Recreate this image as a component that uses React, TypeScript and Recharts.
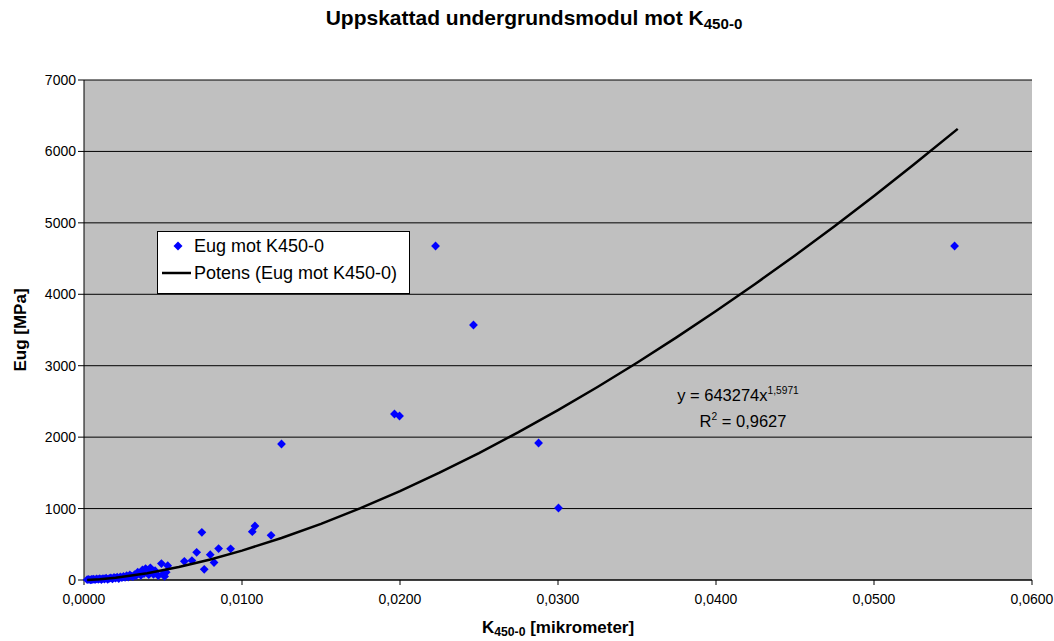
import React from 'react'
import {
  ComposedChart, Scatter, XAxis, YAxis, CartesianGrid
} from 'recharts'

// K450-0 [mikrometer] vs Eug [MPa]
const kValues = [
  0.0002, 0.0003, 0.0004, 0.0005, 0.0005, 0.0006, 0.0007, 0.0008, 0.0009, 0.0010,
  0.0011, 0.0012, 0.0013, 0.0014, 0.0015, 0.0016, 0.0017, 0.0018, 0.0019, 0.0020,
  0.0021, 0.0022, 0.0023, 0.0024, 0.0025, 0.0026, 0.0027, 0.0028, 0.0029, 0.0030,
  0.0031, 0.0032, 0.0033, 0.0034, 0.0035, 0.0036, 0.0037, 0.0038, 0.0039, 0.0040,
  0.0041, 0.0042, 0.0043, 0.0044, 0.0045, 0.0047, 0.0049, 0.0050, 0.0051, 0.0052,
  0.0053, 0.00635, 0.00683, 0.00713, 0.00746, 0.00761, 0.00799, 0.00823, 0.00852, 0.00928,
  0.01065, 0.01082, 0.01184, 0.0125, 0.01965, 0.01997, 0.02225, 0.02465, 0.02877, 0.03003,
  0.0551,
]
const eugValues = [
  5, 8, 3, 10, 4, 12, 6, 15, 9, 18,
  7, 20, 14, 25, 10, 22, 30, 15, 35, 25,
  40, 20, 45, 32, 50, 38, 60, 42, 70, 55,
  48, 75, 62, 110, 85, 65, 140, 90, 160, 100,
  75, 170, 120, 80, 130, 60, 230, 85, 50, 110,
  200, 262, 272, 388, 668, 150, 355, 245, 440, 437,
  676, 756, 625, 1904, 2324, 2296, 4676, 3570, 1918, 1008,
  4676,
]

// power trendline y = a * x^b
const trendA = 643274
const trendB = 1.5971
const trendR2 = 0.9627
const trendSteps = [
  0.0002, 0.001, 0.002, 0.004, 0.006, 0.008, 0.01, 0.0125, 0.015, 0.0175, 0.02,
  0.0225, 0.025, 0.0275, 0.03, 0.0325, 0.035, 0.0375, 0.04, 0.0425, 0.045,
  0.0475, 0.05, 0.0525, 0.0553,
]

const xTicks = [0, 0.01, 0.02, 0.03, 0.04, 0.05, 0.06]
const yTicks = [0, 1000, 2000, 3000, 4000, 5000, 6000, 7000]

const points = kValues.map((k, i) => ({ k, eug: eugValues[i] }))
const trend = trendSteps.map(k => ({ k, eug: trendA * Math.pow(k, trendB) }))

const FONT = '"Liberation Sans", Arial, sans-serif'
const fmtX = (v: number) => v.toFixed(4).replace('.', ',')
const comma = (v: number) => String(v).replace('.', ',')

const Diamond = (props: any) => {
  const { cx, cy } = props
  if (cx == null || cy == null) return <g />
  const r = 4.4
  return (
    <path
      d={`M${cx},${cy - r} L${cx + r},${cy} L${cx},${cy + r} L${cx - r},${cy} Z`}
      fill="#0000FF"
    />
  )
}

const LegendBox = () => (
  <div style={{
    position: 'absolute', left: 157, top: 231,
    width: 253, height: 63, background: '#fff', border: '1px solid #000',
    fontSize: 18, color: '#000', boxSizing: 'border-box', lineHeight: '20px',
  }}>
    <div style={{ position: 'absolute', left: 4, top: 4, display: 'flex', alignItems: 'center' }}>
      <svg width={30} height={14}>
        <path d="M16,2.5 L20.5,7 L16,11.5 L11.5,7 Z" fill="#0000FF" />
      </svg>
      <span style={{ marginLeft: 2 }}>Eug mot K450-0</span>
    </div>
    <div style={{ position: 'absolute', left: 4, top: 31, display: 'flex', alignItems: 'center' }}>
      <svg width={30} height={14}>
        <line x1={0} y1={7} x2={29} y2={7} stroke="#000" strokeWidth={2.5} />
      </svg>
      <span style={{ marginLeft: 2 }}>Potens (Eug mot K450-0)</span>
    </div>
  </div>
)

export default function App() {
  const sub = { fontSize: '0.72em', verticalAlign: '-0.25em' }
  const sup = { fontSize: '0.62em', verticalAlign: '0.65em' }
  return (
    <div style={{ position: 'absolute', left: 0, top: 0, width: 1054, height: 641, background: '#fff', fontFamily: FONT }}>
      <ComposedChart
        width={1054}
        height={641}
        margin={{ top: 80, right: 22, bottom: 31, left: 0 }}
      >
        <CartesianGrid vertical={false} stroke="#000" fill="#C0C0C0" fillOpacity={1} />
        <XAxis
          type="number"
          dataKey="k"
          domain={[0, 0.06]}
          ticks={xTicks}
          tickFormatter={fmtX}
          height={30}
          stroke="#000"
          tickSize={5}
          tickMargin={9}
          tick={{ fill: '#000', fontSize: 14, fontFamily: FONT }}
        />
        <YAxis
          type="number"
          dataKey="eug"
          domain={[0, 7000]}
          ticks={yTicks}
          width={84}
          stroke="#000"
          tickSize={6}
          tick={{ fill: '#000', fontSize: 14, fontFamily: FONT }}
        />
        <Scatter
          name="Eug mot K450-0"
          data={points}
          shape={<Diamond />}
          isAnimationActive={false}
        />
        <Scatter
          name="Potens (Eug mot K450-0)"
          data={trend}
          line={{ stroke: '#000', strokeWidth: 2.5 }}
          lineType="joint"
          shape={() => <g />}
          isAnimationActive={false}
        />
      </ComposedChart>

      <LegendBox />

      <div style={{ position: 'absolute', top: 6, left: 0, width: 1068, textAlign: 'center', fontWeight: 'bold', fontSize: 21 }}>
        Uppskattad undergrundsmodul mot K<span style={sub}>450-0</span>
      </div>
      <div style={{ position: 'absolute', top: 618, left: 0, width: 1116, textAlign: 'center', fontWeight: 'bold', fontSize: 17 }}>
        K<span style={sub}>450-0</span> [mikrometer]
      </div>
      <div style={{
        position: 'absolute', left: 21, top: 330, transform: 'translate(-50%, -50%) rotate(-90deg)',
        fontWeight: 'bold', fontSize: 17, whiteSpace: 'nowrap',
      }}>
        Eug [MPa]
      </div>
      <div style={{ position: 'absolute', left: 666, top: 380, width: 144, textAlign: 'center', fontSize: 16.5, lineHeight: '22px' }}>
        <div>y = {trendA}x<span style={sup}>{comma(trendB)}</span></div>
        <div style={{ paddingLeft: 10 }}>R<span style={sup}>2</span> = {comma(trendR2)}</div>
      </div>
    </div>
  )
}
